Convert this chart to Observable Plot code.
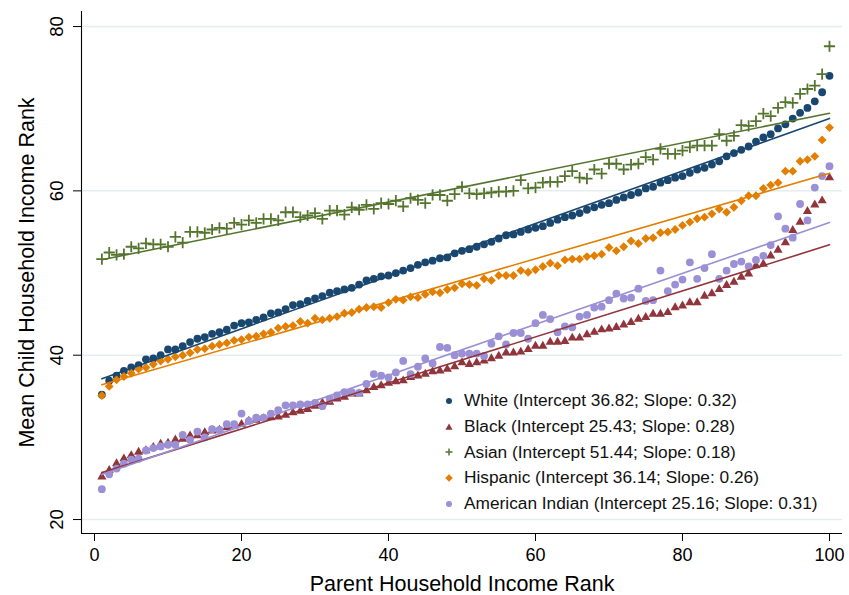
<!DOCTYPE html>
<html><head><meta charset="utf-8">
<script src="https://cdn.jsdelivr.net/npm/d3@7"></script>
<script src="https://cdn.jsdelivr.net/npm/@observablehq/plot@0.6"></script>
<style>
body{margin:0;background:#fff;font-family:"Liberation Sans",Arial,sans-serif;}
#wrap{position:relative;width:849px;height:595px;}
#legend{position:absolute;left:441px;top:388px;font-size:17.3px;color:#111;}
.row{height:25.7px;display:flex;align-items:center;white-space:nowrap;}
.row svg{width:16px;height:14px;margin-right:7px;flex:none;}
</style></head><body><div id="wrap"></div>
<script>
const ranks = d3.range(1, 101);

const white = [35.2,36.9,37.5,38.1,38.5,38.8,39.5,39.6,40.0,40.7,
40.7,41.1,41.6,42.0,42.2,42.6,42.8,43.1,43.6,43.9,
44.0,44.3,44.6,45.1,45.2,45.6,46.1,46.2,46.6,46.9,
47.2,47.6,47.8,48.0,48.2,48.6,49.1,49.3,49.6,49.7,
50.0,50.3,50.6,51.0,51.3,51.5,51.8,51.9,52.4,52.7,
52.9,53.2,53.5,53.8,54.2,54.6,54.7,55.0,55.3,55.5,
55.7,56.1,56.5,56.8,57.0,57.3,57.7,58.0,58.3,58.5,
58.9,59.2,59.5,59.8,60.3,60.5,61.0,61.3,61.6,61.8,
62.2,62.6,62.8,63.2,63.6,64.2,64.6,65.0,65.4,66.0,
66.5,66.9,67.6,68.1,68.8,69.5,70.1,70.9,72.0,74.0];

const black = [25.2,26.0,26.8,27.4,27.8,28.2,28.4,28.8,29.2,29.3,
29.7,29.8,30.2,30.2,30.6,30.8,30.9,31.2,31.4,31.6,
32.0,32.1,32.3,32.4,32.5,32.7,33.0,33.2,33.4,33.8,
34.2,34.3,34.7,34.9,35.3,35.3,35.7,36.1,36.3,36.6,
36.8,36.9,37.3,37.5,37.7,38.0,38.1,38.3,38.6,39.1,
38.9,39.1,39.3,39.6,39.9,40.3,40.3,40.4,40.7,41.1,
41.1,41.6,41.6,41.7,42.1,42.1,42.5,42.8,43.1,43.2,
43.4,43.7,44.0,44.4,44.6,45.0,45.0,45.2,45.8,46.0,
46.4,46.4,47.2,47.5,48.0,48.5,48.9,49.5,49.9,50.9,
51.1,52.1,52.8,53.7,55.2,56.2,57.5,58.3,58.8,61.6];

const asian = [51.7,52.5,52.2,52.3,53.2,53.0,53.6,53.5,53.5,53.2,
54.4,53.7,55.0,55.0,54.9,55.3,55.5,55.4,56.1,55.9,
56.4,56.1,56.6,56.6,56.4,57.4,57.4,56.8,57.0,57.3,
56.6,57.6,57.6,57.1,58.0,57.7,58.3,57.8,58.5,58.4,
58.8,58.1,59.1,58.9,58.5,59.5,59.5,58.8,59.6,60.5,
59.7,59.6,59.7,59.8,59.9,59.9,60.0,61.3,60.3,60.4,
61.0,61.1,61.1,61.8,62.4,61.6,61.5,62.6,62.1,63.3,
63.3,62.6,63.2,63.3,64.1,63.8,65.1,64.5,64.5,64.9,
65.3,65.5,65.5,65.5,66.9,66.1,66.7,68.0,67.9,68.5,
69.4,69.1,70.1,70.8,70.7,71.8,72.4,72.8,74.2,77.6];

const hispanic = [35.1,36.2,37.0,37.4,37.8,38.3,38.5,38.9,39.3,39.5,
39.8,40.0,40.3,40.7,40.8,41.1,41.3,41.5,41.8,41.9,
42.2,42.3,42.6,42.8,43.3,43.5,43.6,44.1,43.9,44.5,
44.3,44.5,44.7,45.1,45.2,45.6,45.8,45.9,45.8,46.4,
46.8,46.7,47.1,47.0,47.4,47.7,47.6,48.0,48.2,48.7,
48.6,48.5,49.3,49.1,49.7,49.7,49.7,50.3,50.1,50.4,
50.8,51.2,50.9,51.6,51.7,51.7,52.0,52.1,52.3,53.1,
52.7,53.2,53.9,53.6,54.2,54.3,54.9,55.0,55.3,55.8,
56.2,56.6,56.8,57.2,57.8,57.4,58.0,58.8,59.4,59.4,
60.3,60.7,61.0,62.4,62.4,63.6,63.8,64.2,66.2,67.7];

const amind = [23.7,25.5,26.2,26.8,27.3,27.4,28.4,28.7,28.9,29.1,
29.1,30.3,29.7,30.7,30.0,31.0,30.9,31.6,31.6,32.9,
32.0,32.4,32.4,32.9,33.3,33.9,33.9,34.0,34.0,34.2,
33.8,34.7,35.1,35.5,35.5,35.4,36.5,37.7,37.5,37.3,
37.9,39.3,37.7,38.6,39.6,39.0,41.0,40.9,40.0,40.2,
40.2,40.2,39.9,41.4,42.3,41.3,42.7,42.7,42.0,43.9,
44.9,44.4,42.8,43.5,43.4,44.7,44.9,45.8,45.9,46.7,
47.5,46.9,47.0,48.1,46.6,46.7,50.3,47.8,48.6,49.2,
51.3,49.3,50.6,52.3,49.3,50.3,51.1,51.4,50.8,51.6,
52.1,53.4,56.9,55.4,54.3,58.4,56.4,60.4,61.8,63.0];

const names = ["White","Black","Asian","Hispanic","American Indian"];
const intercepts = [36.82, 25.43, 51.44, 36.14, 25.16];
const slopes = [0.32, 0.28, 0.18, 0.26, 0.31];
const colors = ["#1a476f","#90353b","#55752f","#e37e00","#9b8fd5"];
const series = [white, black, asian, hispanic, amind];
const xTicks = [0,20,40,60,80,100];
const yTicks = [20,40,60,80];

const xDomain = [-1.77, 101.77];
const yDomain = [18.3, 81.83];

const pts = series.map((s, k) => ranks.map((r, i) => ({x: r, y: s[i], name: names[k]})));
const fits = names.flatMap((n, k) => [ranks[0], ranks[ranks.length-1]].map(x => ({x, y: intercepts[k] + slopes[k]*x, name: n})));

const symOpts = [
  {symbol:"circle", fill:colors[0], r:3.9},
  {symbol:"triangle", fill:colors[1], r:3.4},
  {symbol:"plus", stroke:colors[2], strokeWidth:1.8, r:3.7},
  {symbol:"diamond2", fill:colors[3], stroke:"none", r:4.0},
  {symbol:"circle", fill:colors[4], r:3.9}
];

const chart = Plot.plot({
  width: 849, height: 595,
  marginLeft: 81, marginRight: 7, marginTop: 11, marginBottom: 62,
  x: {domain: xDomain},
  y: {domain: yDomain},
  style: {fontFamily: "'Liberation Sans', Arial, sans-serif", background: "#fff", color: "#000"},
  marks: [
    Plot.ruleY(yTicks, {stroke: "#e4eef0", strokeWidth: 1.5}),
    ...pts.map((d, k) => Plot.dot(d, {x: "x", y: "y", ...symOpts[k]})),
    Plot.line(fits, {x: "x", y: "y", z: "name", stroke: d => colors[names.indexOf(d.name)], strokeWidth: 1.6}),
    Plot.ruleX([xDomain[0]], {stroke: "#000", strokeWidth: 1.1}),
    Plot.ruleY([yDomain[0]], {stroke: "#000", strokeWidth: 1.1}),
    Plot.axisX({ticks: xTicks, tickSize: 8, tickPadding: 7, fontSize: 18, label: null, tickFormat: d => String(d)}),
    Plot.axisY({ticks: yTicks, tickSize: 8, label: null, tickFormat: () => ""}),
    Plot.text(yTicks, {y: d => d, frameAnchor: "left", text: d => String(d), rotate: -90, dx: -19, textAnchor: "middle", lineAnchor: "bottom", fontSize: 18.5}),
    Plot.text(["Mean Child Household Income Rank"], {frameAnchor: "left", text: d => d, rotate: -90, dx: -48, textAnchor: "middle", lineAnchor: "bottom", fontSize: 21.5}),
    Plot.text(["Parent Household Income Rank"], {frameAnchor: "bottom", text: d => d, dy: 57, textAnchor: "middle", lineAnchor: "bottom", fontSize: 21.5})
  ]
});

const wrap = document.getElementById("wrap");
wrap.appendChild(chart);

// legend
const legend = document.createElement("div");
legend.id = "legend";
const markerSvg = k => {
  const c = colors[k];
  if (k === 0 || k === 4) return `<svg viewBox="-8 -7 16 14"><circle r="3" fill="${c}"/></svg>`;
  if (k === 1) return `<svg viewBox="-8 -7 16 14"><path d="M0,-3.4L3.6,2.8L-3.6,2.8Z" fill="${c}"/></svg>`;
  if (k === 2) return `<svg viewBox="-8 -7 16 14"><path d="M-3.5,0H3.5M0,-3.5V3.5" stroke="${c}" stroke-width="1.5"/></svg>`;
  return `<svg viewBox="-8 -7 16 14"><path d="M0,-3.8L3.8,0L0,3.8L-3.8,0Z" fill="${c}"/></svg>`;
};
legend.innerHTML = names.map((n, k) =>
  `<div class="row">${markerSvg(k)}<span>${n} (Intercept ${intercepts[k].toFixed(2)}; Slope: ${slopes[k].toFixed(2)})</span></div>`
).join("");
wrap.appendChild(legend);
</script></body></html>
